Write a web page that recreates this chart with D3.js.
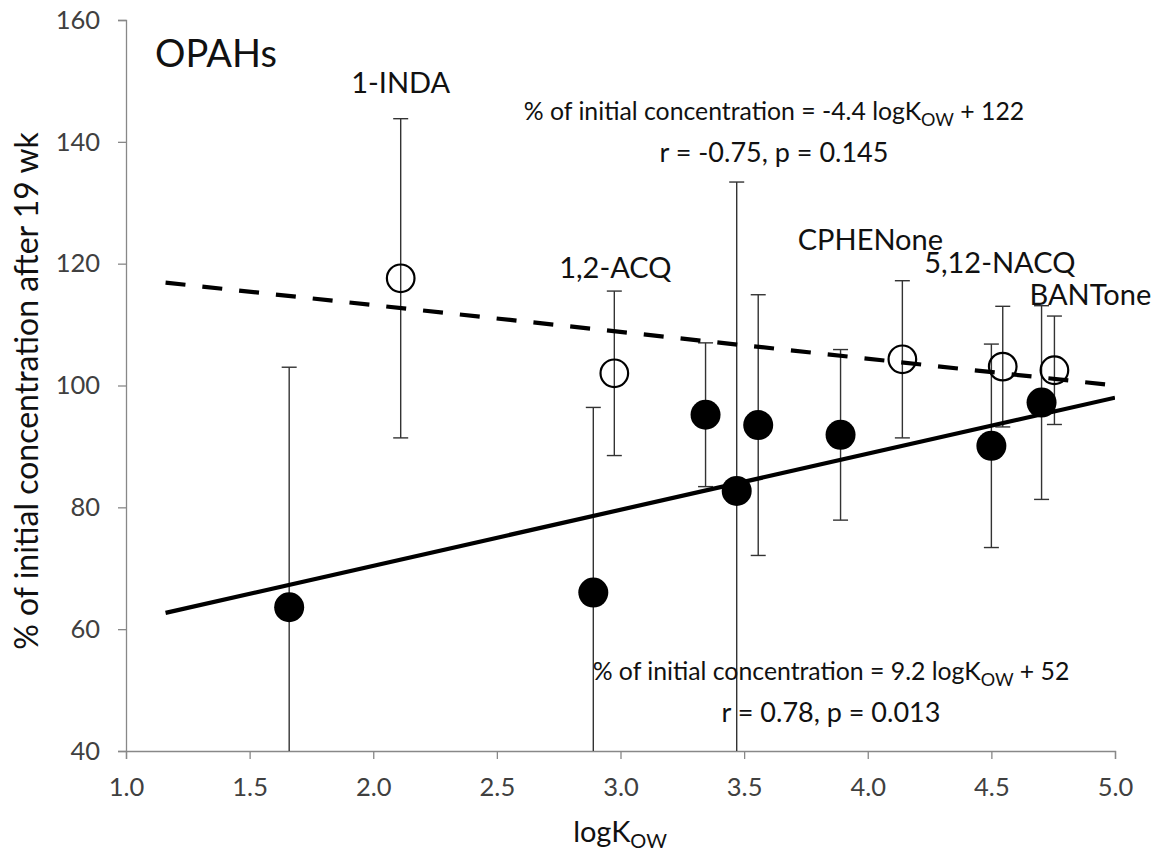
<!DOCTYPE html>
<html><head><meta charset="utf-8">
<script src="https://cdn.jsdelivr.net/npm/d3@7"></script>
<style>body{margin:0;background:#fff}svg{display:block}text{font-family:Lato,"Open Sans",sans-serif}</style>
</head><body><svg id="c" width="1156" height="852"></svg>
<script>
// ---- data ----
const xTicks = [1.0, 1.5, 2.0, 2.5, 3.0, 3.5, 4.0, 4.5, 5.0];
const yTicks = [40, 60, 80, 100, 120, 140, 160];

// filled markers (series with solid trend)
const filledX   = [1.66, 2.89, 3.344, 3.47, 3.557, 3.89, 4.50, 4.703];
const filledY   = [63.6, 66.0, 95.2, 82.7, 93.5, 91.9, 90.1, 97.2];
const filledErr = [39.4, 30.4, 11.8, 50.7, 21.4, 14.0, 16.7, 15.9];

// open markers (series with dashed trend)
const openNames = ["1-INDA", "1,2-ACQ", "CPHENone", "5,12-NACQ", "BANTone"];
const openX     = [2.111, 2.975, 4.14, 4.546, 4.755];
const openY     = [117.6, 102.0, 104.3, 103.1, 102.5];
const openErr   = [26.2, 13.5, 12.9, 9.9, 8.9];

// trend lines: slope, intercept, x-range
const solidFit  = {slope: 9.2, intercept: 52};
const dashedFit = {slope: -4.4, intercept: 122};
const fitRange  = [1.16, 5.0];

// ---- layout ----
const svg = d3.select("#c");
const x = d3.scaleLinear().domain([1, 5]).range([126, 1115]);
const y = d3.scaleLinear().domain([40, 160]).range([751, 20]);
const axisColor = "#888";
const tickText = "#404040";

svg.append("clipPath").attr("id","plot").append("rect")
  .attr("x", x(1)).attr("y", y(160)).attr("width", x(5)-x(1)).attr("height", y(40)-y(160));

const gx = svg.append("g").attr("transform", `translate(0,${y(40)})`)
  .call(d3.axisBottom(x).tickValues(xTicks).tickFormat(d3.format(".1f")).tickSizeOuter(0).tickSize(8).tickPadding(19));
const gy = svg.append("g").attr("transform", `translate(${x(1)},0)`)
  .call(d3.axisLeft(y).tickValues(yTicks).tickSizeOuter(0).tickSize(8).tickPadding(18));
[gx, gy].forEach(g => {
  g.select(".domain").attr("stroke", axisColor).attr("stroke-width", 1.3);
  g.selectAll(".tick line").attr("stroke", axisColor).attr("stroke-width", 1.3);
  g.selectAll(".tick text").attr("fill", tickText).style("font-size", "25.5px").style("font-family", "Lato");
});

const plot = svg.append("g").attr("clip-path", "url(#plot)");

function errBars(xs, ys, es) {
  const d = xs.map((v, i) => ({x: v, y: ys[i], e: es[i]}));
  const g = plot.append("g").attr("stroke", "#333").attr("stroke-width", 1.4);
  g.selectAll(".v").data(d).join("line")
    .attr("x1", p => x(p.x)).attr("x2", p => x(p.x))
    .attr("y1", p => y(p.y + p.e)).attr("y2", p => y(p.y - p.e));
  g.selectAll(".t").data(d).join("line")
    .attr("x1", p => x(p.x) - 7.5).attr("x2", p => x(p.x) + 7.5)
    .attr("y1", p => y(p.y + p.e)).attr("y2", p => y(p.y + p.e));
  g.selectAll(".b").data(d.filter(p => p.y - p.e > 40)).join("line")
    .attr("x1", p => x(p.x) - 7.5).attr("x2", p => x(p.x) + 7.5)
    .attr("y1", p => y(p.y - p.e)).attr("y2", p => y(p.y - p.e));
}
errBars(filledX, filledY, filledErr);
errBars(openX, openY, openErr);

const line = d3.line().x(d => x(d[0])).y(d => y(d[1]));
function fitPts(f) { return fitRange.map(v => [v, f.slope * v + f.intercept]); }
plot.append("path").attr("d", line(fitPts(dashedFit))).attr("fill", "none")
  .attr("stroke", "#000").attr("stroke-width", 4.2).attr("stroke-dasharray", "20,17");
plot.append("path").attr("d", line(fitPts(solidFit))).attr("fill", "none")
  .attr("stroke", "#000").attr("stroke-width", 4.2);

svg.append("g").selectAll("circle").data(filledX.map((v, i) => [v, filledY[i]])).join("circle")
  .attr("cx", d => x(d[0])).attr("cy", d => y(d[1])).attr("r", 15).attr("fill", "#000");
svg.append("g").selectAll("circle").data(openX.map((v, i) => [v, openY[i]])).join("circle")
  .attr("cx", d => x(d[0])).attr("cy", d => y(d[1])).attr("r", 13.8)
  .attr("fill", "none").attr("stroke", "#000").attr("stroke-width", 2.2);

// point labels (pixel offsets from marker)
const labelDx = [0, 1, -32, -3, 36];
const labelDy = [-195, -105, -119, -104, -75];
svg.append("g").selectAll("text").data(openNames).join("text")
  .attr("x", (d, i) => x(openX[i]) + labelDx[i])
  .attr("y", (d, i) => y(openY[i]) + labelDy[i])
  .attr("dy", "0.35em").attr("text-anchor", "middle")
  .style("font-size", "29px").attr("fill", "#111").text(d => d);

svg.append("text").attr("x", 155).attr("y", 67).style("font-size", "38px").attr("fill", "#111").text("OPAHs");

function eqn(cx, cy, slope, intercept, r, p) {
  const t1 = svg.append("text").attr("x", cx).attr("y", cy).attr("text-anchor", "middle")
    .style("font-size", "24.8px").attr("fill", "#111");
  t1.append("tspan").text(`% of initial concentration = ${slope} logK`);
  t1.append("tspan").attr("dy", 6).style("font-size", "18px").text("OW");
  t1.append("tspan").attr("dy", -6).text(` + ${intercept}`);
  svg.append("text").attr("x", cx).attr("y", cy + 42).attr("text-anchor", "middle")
    .style("font-size", "27px").attr("fill", "#111").text(`r = ${r}, p = ${p}`);
}
eqn(774, 120, dashedFit.slope, dashedFit.intercept, "-0.75", "0.145");
eqn(831, 680, solidFit.slope, solidFit.intercept, "0.78", "0.013");

const xt = svg.append("text").attr("x", 620).attr("y", 842).attr("text-anchor", "middle")
  .style("font-size", "29px").attr("fill", "#111");
xt.append("tspan").text("logK");
xt.append("tspan").attr("dy", 6).style("font-size", "20px").text("OW");
svg.append("text").attr("transform", `translate(38,391) rotate(-90)`).attr("text-anchor", "middle")
  .style("font-size", "32px").attr("fill", "#111").text("% of initial concentration after 19 wk");
</script></body></html>
